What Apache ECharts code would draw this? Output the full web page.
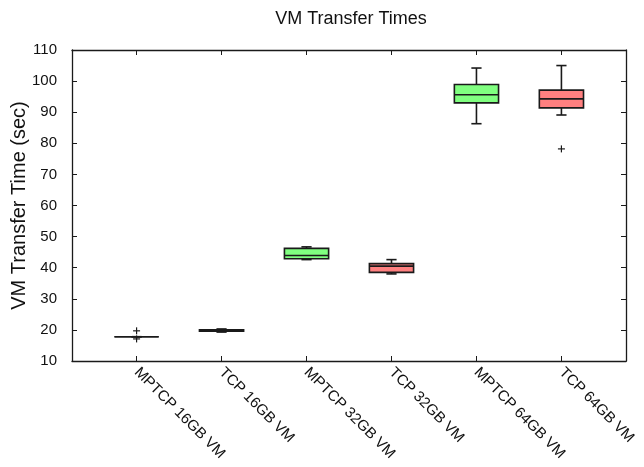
<!DOCTYPE html>
<html>
<head>
<meta charset="utf-8">
<title>VM Transfer Times</title>
<script src="https://cdn.jsdelivr.net/npm/echarts@6/dist/echarts.min.js"></script>
<style>
  html, body { margin: 0; padding: 0; background: #fff; }
  #chart { width: 644px; height: 467px; }
</style>
</head>
<body>
<div id="chart"></div>
<script>
// Transfer configurations shown along the x axis
const categories = ['MPTCP 16GB VM', 'TCP 16GB VM', 'MPTCP 32GB VM', 'TCP 32GB VM', 'MPTCP 64GB VM', 'TCP 64GB VM'];

// Five-number summaries (seconds) per configuration
const whiskerLow  = [17.8, 19.3, 42.6, 38.0, 86.3, 89.1];
const quartile1   = [17.8, 19.6, 42.9, 38.5, 93.0, 91.4];
const medians     = [17.8, 19.8, 43.9, 40.5, 95.6, 94.3];
const quartile3   = [17.8, 20.0, 46.2, 41.3, 98.9, 97.1];
const whiskerHigh = [17.8, 20.3, 46.7, 42.6, 104.2, 105.0];

// Outliers as [category index, seconds]
const outliers = [[0, 19.7], [0, 17.1], [5, 78.2]];

// Y axis tick values
const yTicks = [10, 20, 30, 40, 50, 60, 70, 80, 90, 100, 110];

// Box fill per protocol
const boxFills = ['#80ff80', '#ff8080', '#80ff80', '#ff8080', '#80ff80', '#ff8080'];

const catIdx = categories.map((_, i) => i);
const boxData = catIdx.map(i => [i, whiskerLow[i], quartile1[i], medians[i], quartile3[i], whiskerHigh[i]]);

const LINE = '#1a1a1a';
const FONT = '"Liberation Sans", Arial, sans-serif';

function renderBox(params, api) {
  const x = api.value(0);
  const pLow = api.coord([x, api.value(1)]);
  const pQ1 = api.coord([x, api.value(2)]);
  const pMed = api.coord([x, api.value(3)]);
  const pQ3 = api.coord([x, api.value(4)]);
  const pHigh = api.coord([x, api.value(5)]);
  const unit = api.size([1, 0])[0];
  const half = unit * 0.26;
  const cap = unit * 0.06;
  const cx = pLow[0];
  const stroke = { stroke: LINE, lineWidth: 1.6 };
  return {
    type: 'group',
    children: [
      { type: 'line', shape: { x1: cx, y1: pHigh[1], x2: cx, y2: pQ3[1] }, style: stroke },
      { type: 'line', shape: { x1: cx, y1: pLow[1], x2: cx, y2: pQ1[1] }, style: stroke },
      { type: 'line', shape: { x1: cx - cap, y1: pHigh[1], x2: cx + cap, y2: pHigh[1] }, style: stroke },
      { type: 'line', shape: { x1: cx - cap, y1: pLow[1], x2: cx + cap, y2: pLow[1] }, style: stroke },
      {
        type: 'rect',
        shape: { x: cx - half, y: pQ3[1], width: half * 2, height: pQ1[1] - pQ3[1] },
        style: { fill: boxFills[params.dataIndex], stroke: LINE, lineWidth: 1.6 }
      },
      { type: 'line', shape: { x1: cx - half, y1: pMed[1], x2: cx + half, y2: pMed[1] }, style: stroke }
    ]
  };
}

function renderOutlier(params, api) {
  const p = api.coord([api.value(0), api.value(1)]);
  const r = 3.5;
  const s = { stroke: LINE, lineWidth: 1.2 };
  return {
    type: 'group',
    children: [
      { type: 'line', shape: { x1: p[0] - r, y1: p[1], x2: p[0] + r, y2: p[1] }, style: s },
      { type: 'line', shape: { x1: p[0], y1: p[1] - r, x2: p[0], y2: p[1] + r }, style: s }
    ]
  };
}

const frameLine = { show: true, onZero: false, lineStyle: { color: LINE, width: 1.3 } };
const innerTick = { show: true, inside: true, length: 5, lineStyle: { color: LINE, width: 1 } };

const chart = echarts.init(document.getElementById('chart'), null, { renderer: 'canvas' });
chart.setOption({
  animation: false,
  backgroundColor: '#fff',
  title: {
    text: 'VM Transfer Times',
    left: 346,
    top: 5,
    textAlign: 'center',
    textStyle: { fontFamily: FONT, fontSize: 18, fontWeight: 'normal', color: '#111' }
  },
  grid: { left: 72, right: 18, top: 50, bottom: 106, containLabel: false, outerBoundsMode: 'none' },
  xAxis: [
    {
      type: 'value',
      min: -0.76,
      max: 5.76,
      axisLine: frameLine,
      axisTick: Object.assign({}, innerTick, { customValues: catIdx }),
      axisLabel: {
        customValues: catIdx,
        formatter: v => categories[Math.round(v)],
        rotate: -45,
        margin: 9,
        fontFamily: FONT,
        fontSize: 15,
        color: '#111'
      },
      splitLine: { show: false }
    },
    {
      type: 'value',
      position: 'top',
      min: -0.76,
      max: 5.76,
      axisLine: frameLine,
      axisTick: Object.assign({}, innerTick, { customValues: catIdx }),
      axisLabel: { show: false },
      splitLine: { show: false }
    }
  ],
  yAxis: [
    {
      type: 'value',
      min: yTicks[0],
      max: yTicks[yTicks.length - 1],
      interval: 10,
      name: 'VM Transfer Time (sec)',
      nameLocation: 'middle',
      nameGap: 43,
      nameMoveOverlap: false,
      nameTextStyle: { fontFamily: FONT, fontSize: 20, color: '#111' },
      axisLine: frameLine,
      axisTick: innerTick,
      axisLabel: { margin: 15, fontFamily: FONT, fontSize: 15, color: '#111' },
      splitLine: { show: false }
    },
    {
      type: 'value',
      position: 'right',
      min: yTicks[0],
      max: yTicks[yTicks.length - 1],
      interval: 10,
      axisLine: frameLine,
      axisTick: innerTick,
      axisLabel: { show: false },
      splitLine: { show: false }
    }
  ],
  series: [
    {
      type: 'custom',
      name: 'boxes',
      xAxisIndex: 0,
      yAxisIndex: 0,
      renderItem: renderBox,
      encode: { x: 0, y: [1, 2, 3, 4, 5] },
      data: boxData,
      z: 3
    },
    {
      type: 'custom',
      name: 'outliers',
      xAxisIndex: 0,
      yAxisIndex: 0,
      renderItem: renderOutlier,
      encode: { x: 0, y: 1 },
      data: outliers,
      z: 4
    }
  ]
});
</script>
</body>
</html>
